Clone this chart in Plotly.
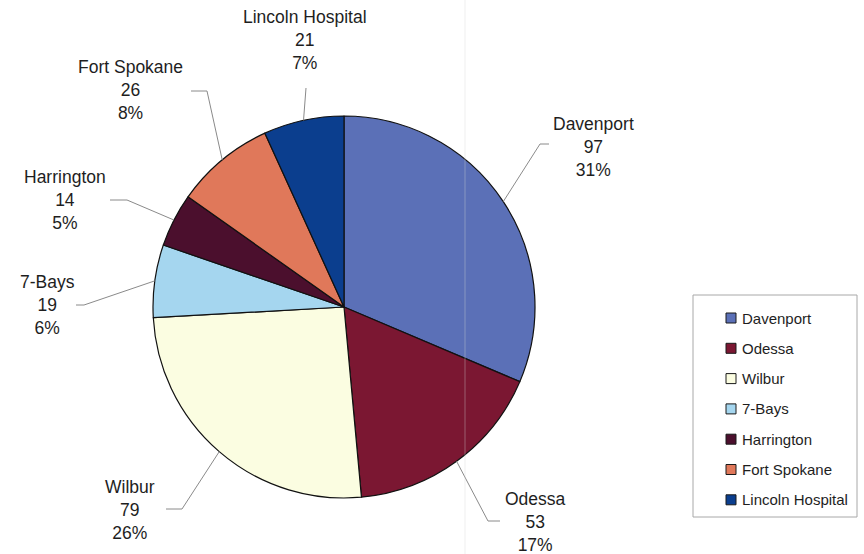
import math
import plotly.graph_objects as go

# Patient counts by site
sites = ["Davenport", "Odessa", "Wilbur", "7-Bays", "Harrington", "Fort Spokane", "Lincoln Hospital"]
counts = [97, 53, 79, 19, 14, 26, 21]
colors = ["#5b70b7", "#7b1732", "#fbfde1", "#a5d6ef", "#4b0f2d", "#e0785a", "#0b3e8e"]

W, H = 864, 554
FONT = "Liberation Sans, Arial, Helvetica, sans-serif"

# Pie geometry in pixels
CX, CY, R = 344, 307, 191


def px(x):
    return x / W


def py(y):
    return 1 - y / H


# Leader line elbow/end points and label centres (pixels), per site
leader = {
    "Davenport": ((540, 144), (549, 144), (593, 147)),
    "Odessa": ((488, 521), (500, 521), (535, 522)),
    "Wilbur": ((182, 509), (166, 509), (130, 510)),
    "7-Bays": ((84, 305), (76, 305), (47, 305)),
    "Harrington": ((127, 200), (110, 200), (65, 200)),
    "Fort Spokane": ((207, 91), (191, 91), (130, 90)),
    "Lincoln Hospital": ((306, 88), (306, 88), (305, 40)),
}

fig = go.Figure(
    go.Pie(
        labels=sites,
        values=counts,
        sort=False,
        direction="clockwise",
        rotation=0,
        marker=dict(colors=colors, line=dict(color="#111111", width=1.2)),
        textinfo="none",
        hoverinfo="skip",
        showlegend=False,
        domain=dict(x=[px(CX - R), px(CX + R)], y=[py(CY + R), py(CY - R)]),
    )
)

shapes = []
annotations = []
total = sum(counts)
cum = 0
for site, n in zip(sites, counts):
    mid = (cum + n / 2) / total * 2 * math.pi
    cum += n
    ex = CX + R * math.sin(mid)
    ey = CY - R * math.cos(mid)
    (bx, by), (tx, ty), (lx, ly) = leader[site]
    shapes.append(dict(
        type="path", xref="paper", yref="paper",
        path=f"M {px(ex)} {py(ey)} L {px(bx)} {py(by)} L {px(tx)} {py(ty)}",
        line=dict(color="#8a8a8a", width=1),
    ))
    pct = round(n / total * 100)
    annotations.append(dict(
        x=px(lx), y=py(ly), xref="paper", yref="paper",
        text=f"{site}<br>{n}<br>{pct}%", showarrow=False,
        xanchor="center", yanchor="middle", align="center",
        font=dict(family=FONT, size=17.5, color="#1e1e1e"),
    ))

# Legend box with swatches
LX0, LY0, LX1, LY1 = 693, 295, 857, 517
shapes.append(dict(type="rect", xref="paper", yref="paper",
                   x0=px(LX0), x1=px(LX1), y0=py(LY1), y1=py(LY0),
                   line=dict(color="#a8a8a8", width=1), fillcolor="white", layer="below"))
for i, (site, c) in enumerate(zip(sites, colors)):
    yc = 318 + i * 30.3
    shapes.append(dict(type="rect", xref="paper", yref="paper",
                       x0=px(726), x1=px(736), y0=py(yc + 5), y1=py(yc - 5),
                       line=dict(color="#1a1a1a", width=1), fillcolor=c))
    annotations.append(dict(
        x=px(740), y=py(yc), xref="paper", yref="paper",
        text=site, showarrow=False, xanchor="left", yanchor="middle",
        font=dict(family=FONT, size=15, color="#1e1e1e"),
    ))

# Faint page crease running down the sheet
shapes.append(dict(type="line", xref="paper", yref="paper",
                   x0=px(465), x1=px(465), y0=0, y1=1,
                   line=dict(color="rgba(215,215,215,0.25)", width=1.5)))

fig.update_layout(
    width=W, height=H,
    margin=dict(l=0, r=0, t=0, b=0),
    paper_bgcolor="white", plot_bgcolor="white",
    shapes=shapes, annotations=annotations,
    showlegend=False, hovermode=False,
)

fig.write_html("out.html")
